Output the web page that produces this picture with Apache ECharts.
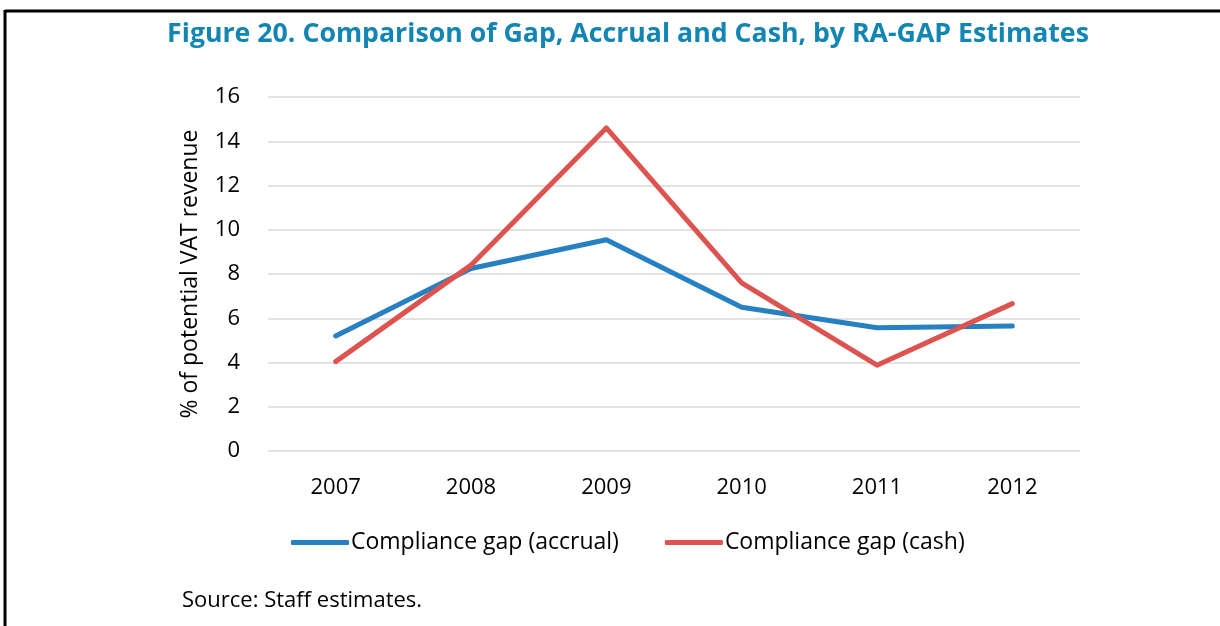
<!DOCTYPE html>
<html>
<head>
<meta charset="utf-8">
<script src="https://cdn.jsdelivr.net/npm/echarts@6/dist/echarts.min.js"></script>
<style>
html,body{margin:0;padding:0;background:#fff;}
#chart{width:1220px;height:626px;}
</style>
</head>
<body>
<div id="chart"></div>
<script>
const categories = ['2007','2008','2009','2010','2011','2012'];
const accrual = [5.2, 8.25, 9.55, 6.5, 5.57, 5.65];
const cash = [4.04, 8.4, 14.6, 7.6, 3.88, 6.66];
const seriesNames = ['Compliance gap (accrual)', 'Compliance gap (cash)'];
const titleText = 'Figure 20. Comparison of Gap, Accrual and Cash, by RA-GAP Estimates';
const yAxisName = '% of potential VAT revenue';
const sourceText = 'Source: Staff estimates.';

const FONT = '"Open Sans", "Noto Sans", sans-serif';
const chart = echarts.init(document.getElementById('chart'), null, {renderer:'canvas'});
chart.setOption({
  animation:false,
  backgroundColor:'#fff',
  title:{
    text:titleText, left:623, top:16, textAlign:'center',
    textStyle:{color:'#1385B3', fontFamily:FONT, fontWeight:'bold', fontSize:26.7}
  },
  legend:{
    left:291, top:531, padding:0, itemWidth:58, itemHeight:5, itemGap:46,
    icon:'roundRect',
    textStyle:{fontFamily:FONT, fontSize:23, color:'#000', padding:[0,0,0,-3]},
    data:seriesNames
  },
  grid:{left:268, right:140, top:97, bottom:175, containLabel:false},
  xAxis:{
    type:'category', data:categories, boundaryGap:true,
    axisLine:{show:false}, axisTick:{show:false},
    axisLabel:{fontFamily:FONT, fontSize:22, color:'#000', margin:26}
  },
  yAxis:{
    type:'value', min:0, max:16, interval:2,
    name:yAxisName, nameLocation:'middle', nameGap:66, nameRotate:90,
    nameTextStyle:{fontFamily:FONT, fontSize:23, color:'#000'},
    axisLine:{show:false}, axisTick:{show:false},
    axisLabel:{fontFamily:FONT, fontSize:22, color:'#000', margin:28},
    splitLine:{lineStyle:{color:'#D9D9D9', width:1.5}}
  },
  series:[
    {name:seriesNames[0], type:'line', data:accrual, symbol:'none', color:'#2680C2',
     lineStyle:{width:5, color:'#2680C2', cap:'round', join:'round'}},
    {name:seriesNames[1], type:'line', data:cash, symbol:'none', color:'#DC5350',
     lineStyle:{width:5, color:'#DC5350', cap:'round', join:'round'}}
  ],
  graphic:[
    {type:'line', shape:{x1:5, y1:11, x2:1220, y2:11}, style:{stroke:'#000', lineWidth:3}},
    {type:'line', shape:{x1:5, y1:10, x2:5, y2:626}, style:{stroke:'#000', lineWidth:3}},
    {type:'text', left:182, top:590, style:{text:sourceText, font:'22px ' + FONT, fill:'#000'}}
  ]
});
</script>
</body>
</html>
